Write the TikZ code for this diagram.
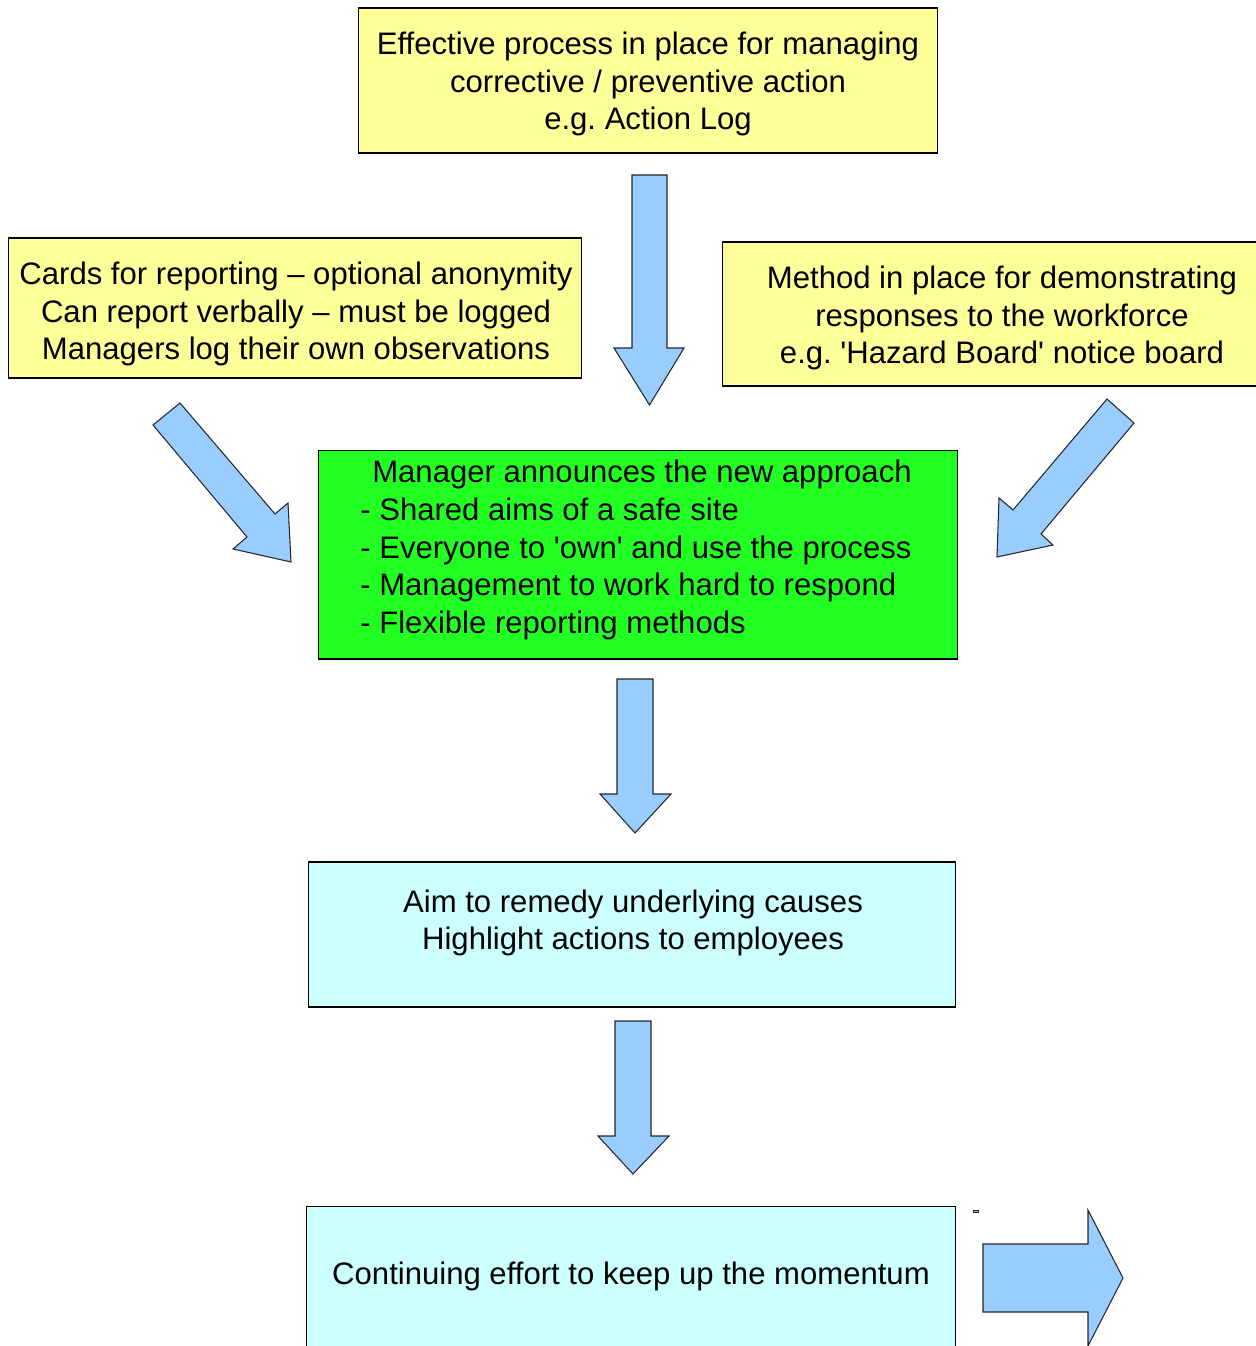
\documentclass[tikz,border=0pt]{standalone}
\usepackage{fontspec}
\setmainfont{Liberation Sans}
\usepackage{xcolor}

\definecolor{noteyellow}{HTML}{FFFF99}
\definecolor{goodgreen}{HTML}{22FF22}
\definecolor{palecyan}{HTML}{CCFFFF}
\definecolor{arrowblue}{HTML}{99CCFF}

\begin{document}
\begin{tikzpicture}[x=0.02cm, y=-0.02cm,
    every node/.style={font=\fontsize{17.7}{21.5}\selectfont},
    box/.style={draw, line width=0.6pt, inner sep=0pt},
    ybox/.style={box, fill=noteyellow},
    gbox/.style={box, fill=goodgreen},
    cbox/.style={box, fill=palecyan},
    boxtext/.style={align=center, inner sep=0pt},
    blockarrow/.style={draw=black!85, fill=arrowblue, line width=0.6pt}]
    \useasboundingbox (0,0) rectangle (1256,1346);

    % Action log
    \node[ybox, minimum width=11.6cm, minimum height=2.9cm] (actionlog) at (648,80.5) {};
    \node[boxtext] (actionlogtext) at (648,84) {Effective process in place for managing\\corrective / preventive action\\e.g.\ Action Log};

    % Reporting cards
    \node[ybox, minimum width=11.48cm, minimum height=2.8cm] (cards) at (295,308) {};
    \node[boxtext] (cardstext) at (296,314) {Cards for reporting -- optional anonymity\\Can report verbally -- must be logged\\Managers log their own observations};

    % Hazard board
    \node[ybox, minimum width=11.2cm, minimum height=2.88cm] (board) at (1002,314) {};
    \node[boxtext] (boardtext) at (1002,318) {Method in place for demonstrating\\responses to the workforce\\e.g.\ \textquotesingle Hazard Board\textquotesingle\ notice board};

    % Manager announcement
    \node[gbox, minimum width=12.8cm, minimum height=4.18cm] (announce) at (638,554.5) {};
    \node[boxtext, align=left] (announcetext) at (636,550) {\hspace*{0.24cm}Manager announces the new approach\\- Shared aims of a safe site\\- Everyone to \textquotesingle own\textquotesingle\ and use the process\\- Management to work hard to respond\\- Flexible reporting methods};

    % Remedy
    \node[cbox, minimum width=12.96cm, minimum height=2.9cm] (remedy) at (632,934.5) {};
    \node[boxtext] (remedytext) at (633,923) {Aim to remedy underlying causes\\Highlight actions to employees};

    % Momentum
    \node[cbox, minimum width=13cm, minimum height=3.1cm] (momentum) at (631,1283.5) {};
    \node[boxtext] (momentumtext) at (631,1276) {Continuing effort to keep up the momentum};

    % Arrows
    \draw[blockarrow] (632,175) -- (667,175) -- (667,348) -- (684,348) -- (649.5,405) -- (614,348) -- (632,348) -- cycle;
    \draw[blockarrow] (153,425) -- (180,403) -- (275,514) -- (288,503) -- (291,562) -- (233,549) -- (247,537) -- cycle;
    \draw[blockarrow] (1107,399) -- (1134,423) -- (1041,534) -- (1053,545) -- (997,557) -- (999,498) -- (1013,510) -- cycle;
    \draw[blockarrow] (617,679) -- (653,679) -- (653,794) -- (671,794) -- (635,833) -- (600,794) -- (617,794) -- cycle;
    \draw[blockarrow] (615,1021) -- (651,1021) -- (651,1136) -- (669,1136) -- (633,1174) -- (598,1136) -- (615,1136) -- cycle;
    \draw[blockarrow] (983,1244) -- (1088,1244) -- (1088,1210) -- (1123,1278) -- (1088,1346) -- (1088,1312) -- (983,1312) -- cycle;
    \draw[blockarrow, line width=0.3pt] (973,1210) rectangle (978,1212);
\end{tikzpicture}
\end{document}
